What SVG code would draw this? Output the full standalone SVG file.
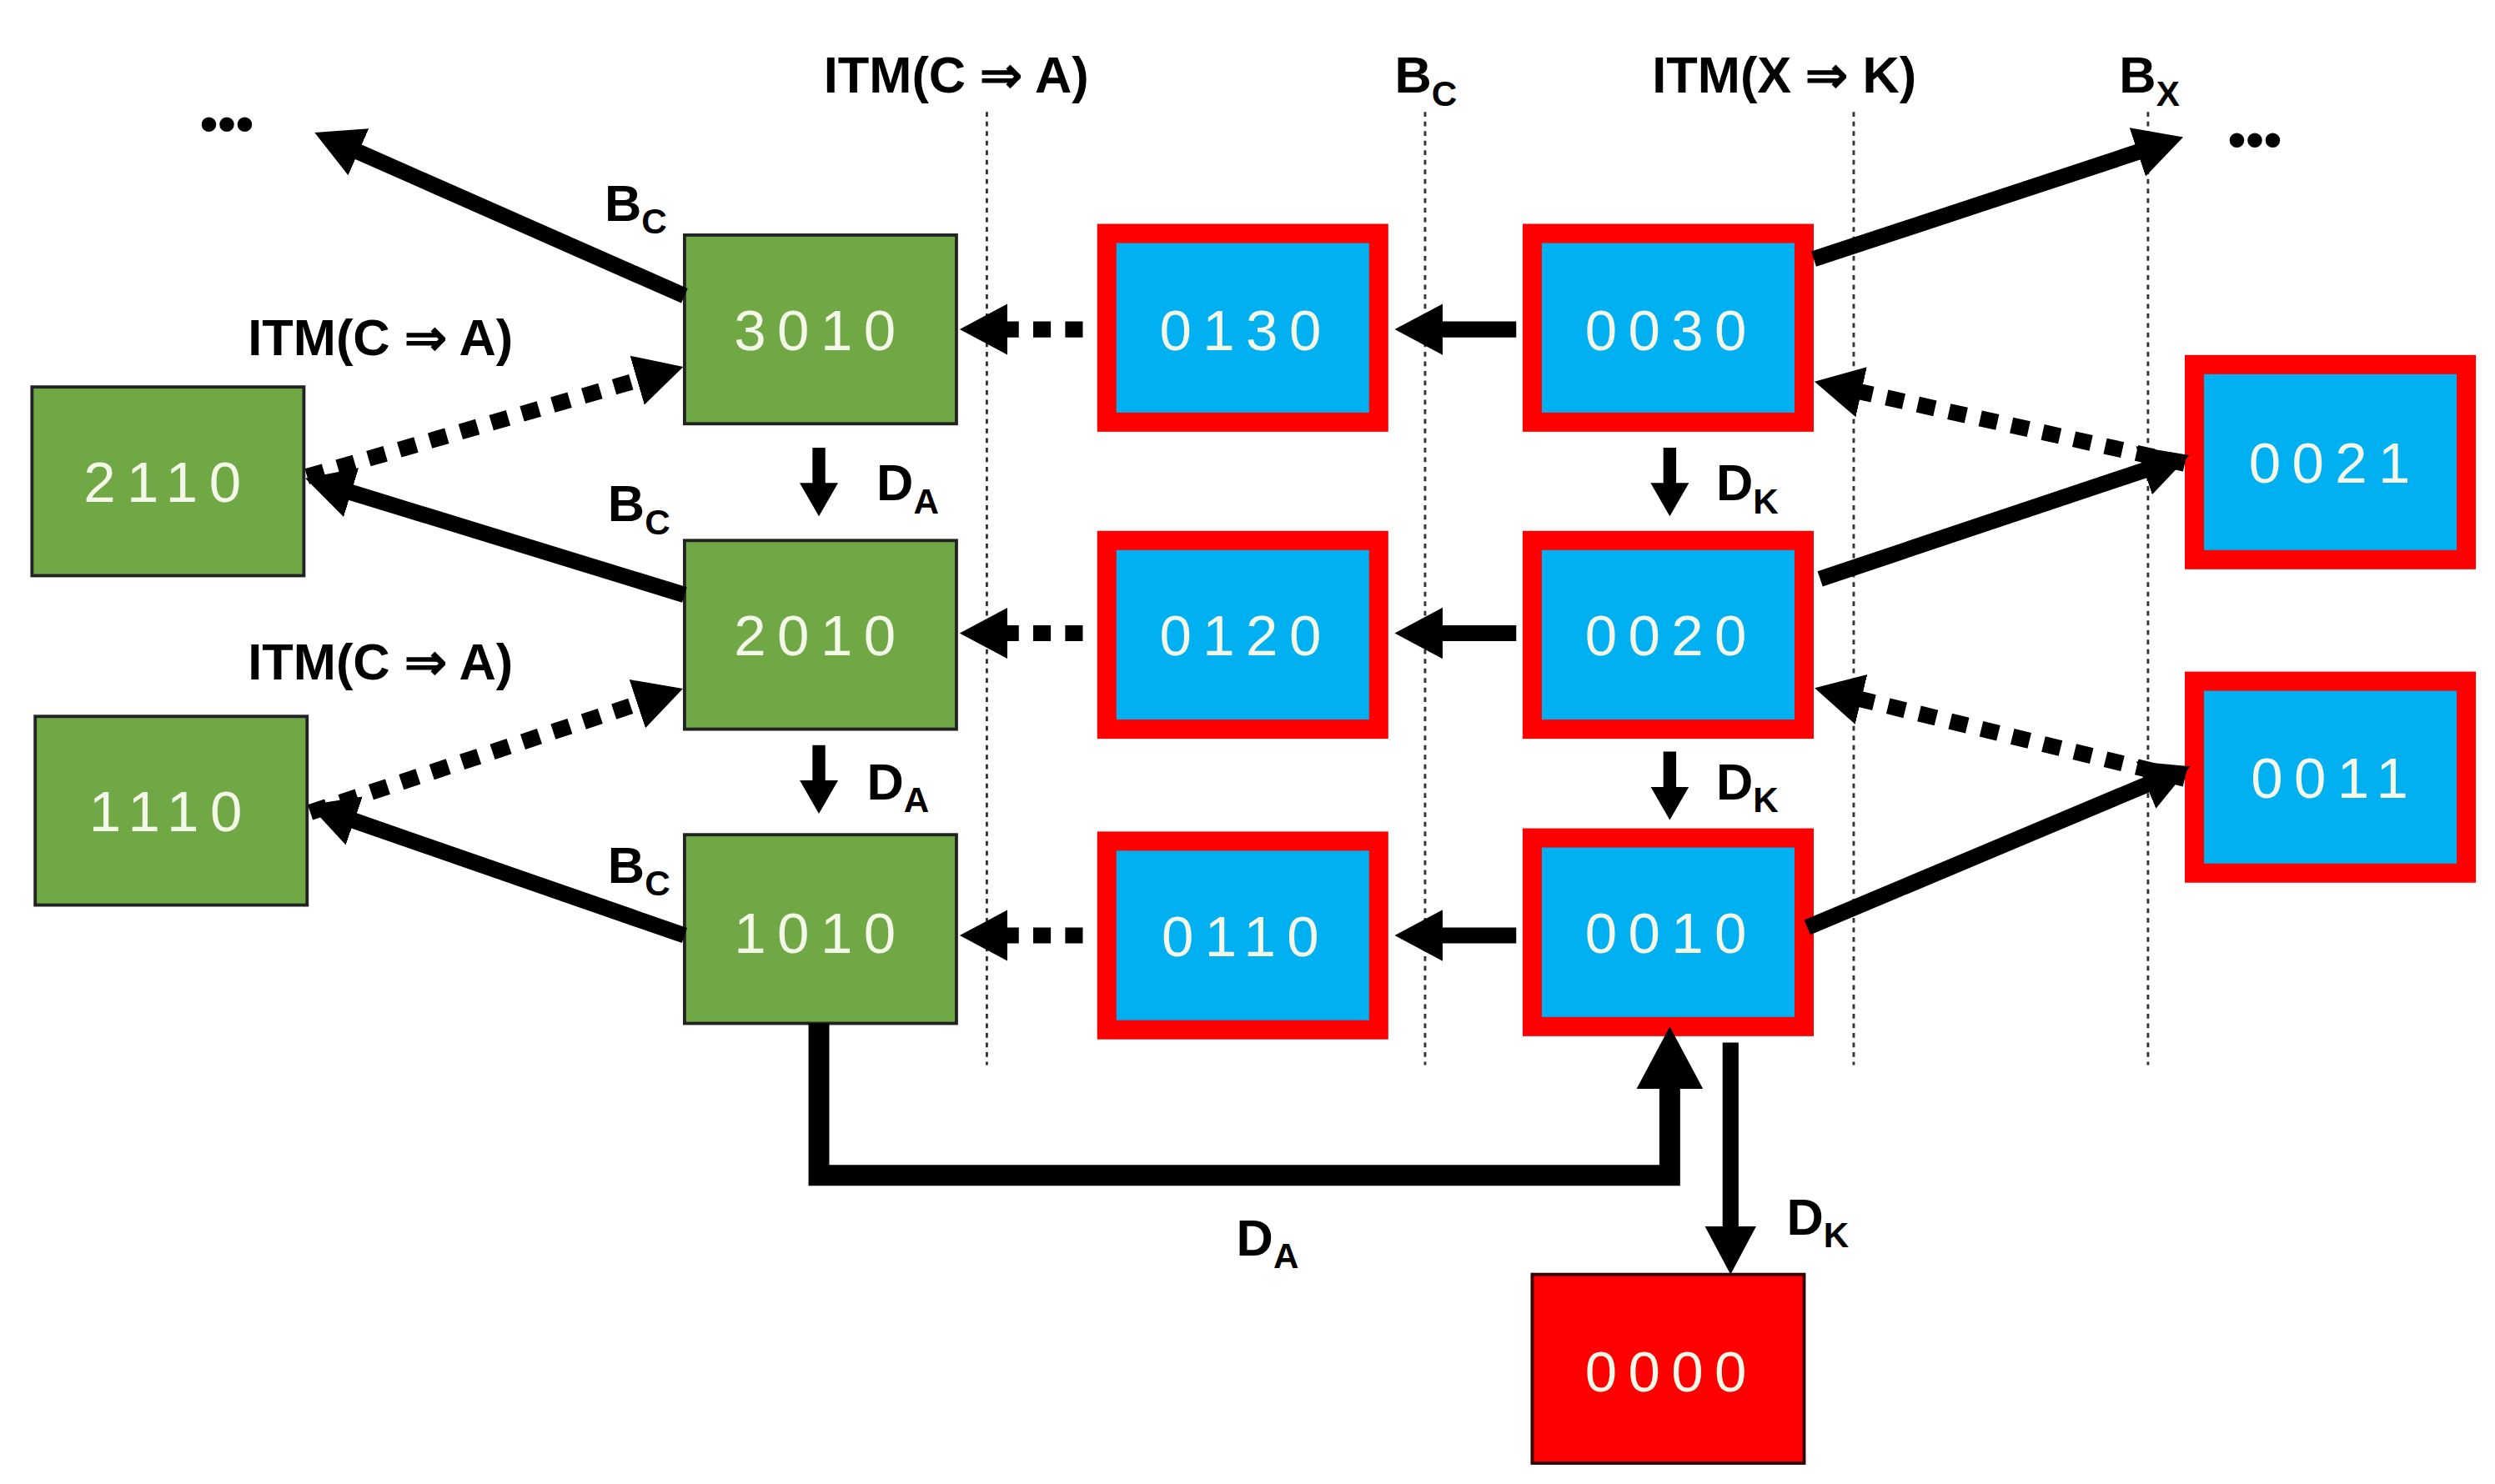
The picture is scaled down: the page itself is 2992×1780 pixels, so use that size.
<svg xmlns="http://www.w3.org/2000/svg" width="2992" height="1780" viewBox="0 0 2992 1780">
<defs>
<marker id="ah" markerUnits="strokeWidth" markerWidth="4" markerHeight="4" refX="1" refY="1.6" orient="auto" viewBox="0 0 4 3.2"><path d="M0,0 L3,1.6 L0,3.2 z" fill="#000"/></marker>
<marker id="ahs" markerUnits="strokeWidth" markerWidth="4" markerHeight="4" refX="1" refY="1.5" orient="auto" viewBox="0 0 4 3"><path d="M0,0 L2.6,1.5 L0,3 z" fill="#000"/></marker>
<style>
.g{fill:#70a845;stroke:#222;stroke-width:2}
.r{fill:#f00}
.b{fill:#00b0f0}
.t{font-family:"Liberation Sans",Arial,sans-serif;font-size:36px;fill:#f4f8e8;text-anchor:middle;letter-spacing:7px}
.l{font-family:"Liberation Sans Narrow","Liberation Sans",Arial,sans-serif;font-weight:bold;font-size:32px;fill:#000}
.s{font-size:22px}
.v{stroke:#333;stroke-width:1.5;stroke-dasharray:3 3;fill:none}
.a{stroke:#000;stroke-width:10;fill:none;marker-end:url(#ah)}
.d{stroke:#000;stroke-width:10;fill:none;stroke-dasharray:11 9;marker-end:url(#ah)}
.k{stroke:#000;stroke-width:8;fill:none;marker-end:url(#ahs)}
</style>
</defs>
<g transform="scale(1.918)">
<g id="guides">
<line class="v" x1="617" y1="70" x2="617" y2="666"/>
<line class="v" x1="891" y1="70" x2="891" y2="666"/>
<line class="v" x1="1159" y1="70" x2="1159" y2="666"/>
<line class="v" x1="1343" y1="70" x2="1343" y2="666"/>
</g>
<g id="labels" class="l">
<text x="515" y="58">ITM(C ⇒ A)</text>
<text x="872" y="58">B<tspan class="s" dy="8">C</tspan></text>
<text x="1033" y="58">ITM(X ⇒ K)</text>
<text x="1325" y="58">B<tspan class="s" dy="8">X</tspan></text>
<text x="125" y="88">•••</text>
<text x="1393" y="98">•••</text>
<text x="378" y="138">B<tspan class="s" dy="8">C</tspan></text>
<text x="155" y="222">ITM(C ⇒ A)</text>
<text x="380" y="326">B<tspan class="s" dy="8">C</tspan></text>
<text x="155" y="425">ITM(C ⇒ A)</text>
<text x="380" y="552">B<tspan class="s" dy="8">C</tspan></text>
<text x="548" y="313">D<tspan class="s" dy="8">A</tspan></text>
<text x="542" y="500">D<tspan class="s" dy="8">A</tspan></text>
<text x="1073" y="313">D<tspan class="s" dy="8">K</tspan></text>
<text x="1073" y="500">D<tspan class="s" dy="8">K</tspan></text>
<text x="773" y="785">D<tspan class="s" dy="8">A</tspan></text>
<text x="1117" y="772">D<tspan class="s" dy="8">K</tspan></text>
</g>
<g id="n3010"><rect class="g" x="428" y="147" width="170" height="118"/><text class="t" x="513" y="219">3010</text></g>
<g id="n2010"><rect class="g" x="428" y="338" width="170" height="118"/><text class="t" x="513" y="410">2010</text></g>
<g id="n1010"><rect class="g" x="428" y="522" width="170" height="118"/><text class="t" x="513" y="596">1010</text></g>
<g id="n2110"><rect class="g" x="20" y="242" width="170" height="118"/><text class="t" x="105" y="314">2110</text></g>
<g id="n1110"><rect class="g" x="22" y="448" width="170" height="118"/><text class="t" x="107" y="520">1110</text></g>
<g id="n0130"><rect class="r" x="686" y="140" width="182" height="130"/><rect class="b" x="698" y="152" width="158" height="106"/><text class="t" x="779" y="219">0130</text></g>
<g id="n0120"><rect class="r" x="686" y="332" width="182" height="130"/><rect class="b" x="698" y="344" width="158" height="106"/><text class="t" x="779" y="410">0120</text></g>
<g id="n0110"><rect class="r" x="686" y="520" width="182" height="130"/><rect class="b" x="698" y="532" width="158" height="106"/><text class="t" x="779" y="598">0110</text></g>
<g id="n0030"><rect class="r" x="952" y="140" width="182" height="130"/><rect class="b" x="964" y="152" width="158" height="106"/><text class="t" x="1045" y="219">0030</text></g>
<g id="n0020"><rect class="r" x="952" y="332" width="182" height="130"/><rect class="b" x="964" y="344" width="158" height="106"/><text class="t" x="1045" y="410">0020</text></g>
<g id="n0010"><rect class="r" x="952" y="518" width="182" height="130"/><rect class="b" x="964" y="530" width="158" height="106"/><text class="t" x="1045" y="596">0010</text></g>
<g id="n0021"><rect class="r" x="1366" y="222" width="182" height="134"/><rect class="b" x="1378" y="234" width="158" height="110"/><text class="t" x="1460" y="302">0021</text></g>
<g id="n0011"><rect class="r" x="1366" y="420" width="182" height="132"/><rect class="b" x="1378" y="432" width="158" height="108"/><text class="t" x="1460" y="499">0011</text></g>
<g id="n0000"><rect x="958" y="797" width="170" height="118" fill="#f00" stroke="#300" stroke-width="2"/><text class="t" x="1045" y="870">0000</text></g>
<g id="connectors">
<line class="a" x1="428" y1="185" x2="215" y2="91"/>
<line class="d" x1="192" y1="298" x2="408" y2="235"/>
<line class="a" x1="428" y1="372" x2="210" y2="305"/>
<line class="d" x1="194" y1="508" x2="408" y2="437"/>
<line class="a" x1="428" y1="585" x2="212" y2="510"/>
<line class="k" x1="512" y1="280" x2="512" y2="310"/>
<line class="k" x1="512" y1="466" x2="512" y2="496"/>
<line class="k" x1="1044" y1="280" x2="1044" y2="310"/>
<line class="k" x1="1044" y1="470" x2="1044" y2="500"/>
<line class="d" x1="677" y1="206" x2="620" y2="206"/>
<line class="d" x1="677" y1="396" x2="620" y2="396"/>
<line class="d" x1="677" y1="585" x2="620" y2="585"/>
<line class="a" x1="948" y1="206" x2="892" y2="206"/>
<line class="a" x1="948" y1="396" x2="892" y2="396"/>
<line class="a" x1="948" y1="585" x2="892" y2="585"/>
<line class="a" x1="1134" y1="162" x2="1346" y2="92"/>
<line class="d" x1="1366" y1="290" x2="1154" y2="243"/>
<line class="a" x1="1138" y1="362" x2="1350" y2="291"/>
<line class="d" x1="1366" y1="487" x2="1154" y2="435"/>
<line class="a" x1="1130" y1="580" x2="1351" y2="487"/>
<path d="M512,640 V735 H1044 V668" class="a" style="stroke-width:13"/>
<line class="a" x1="1082" y1="652" x2="1082" y2="777"/>
</g>
</g>
</svg>
